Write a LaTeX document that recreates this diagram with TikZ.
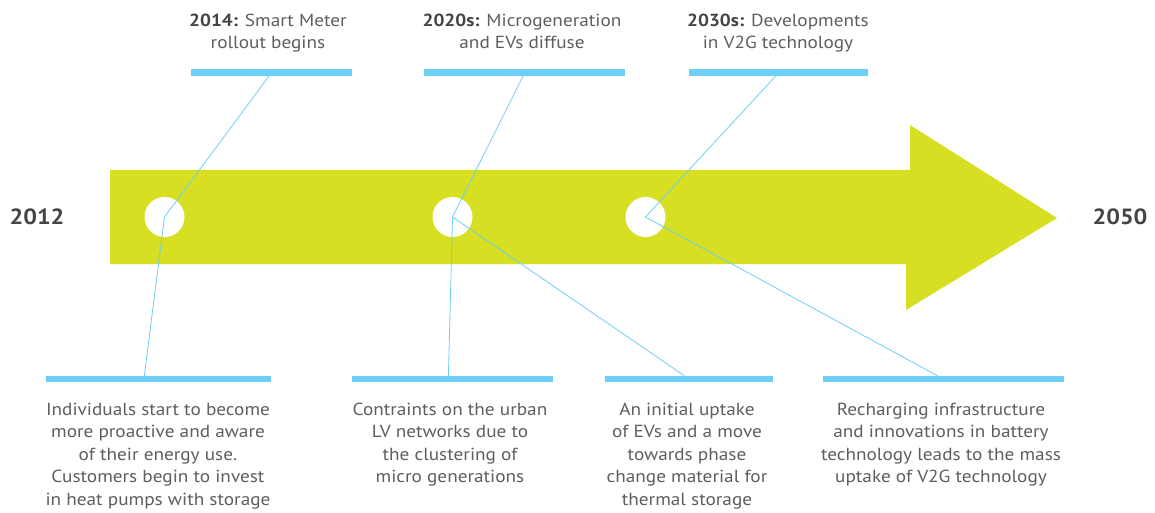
\documentclass[tikz,border=0pt]{standalone}
\usepackage{fontspec}
\setmainfont{PT Sans}[FakeStretch=1.1]
\definecolor{lime}{HTML}{D6DF22}
\definecolor{sky}{HTML}{6DCFF6}
\definecolor{txt}{HTML}{5E5E5E}
\definecolor{btxt}{HTML}{444444}
\begin{document}
\begin{tikzpicture}[x=1pt,y=-1pt,
  bar/.style={fill=sky,draw=none,inner sep=0pt,minimum height=6.5pt},
  dot/.style={circle,fill=white,draw=none,inner sep=0pt,minimum size=40pt},
  link/.style={draw=sky,line width=0.8pt},
  desc/.style={align=center,inner sep=0pt,text=txt,font=\fontsize{17.5}{22.5}\selectfont},
  year/.style={inner sep=0pt,text=btxt,font=\fontsize{22}{26}\selectfont\bfseries}]
\useasboundingbox (0,0) rectangle (1155,513);
% arrow
\fill[lime] (110,170) -- (910,170) -- (910,125) -- (1057,218) -- (906,310) -- (906,264) -- (110,264) -- cycle;
% circles
\node[dot] (c1) at (164.5,217) {};
\node[dot] (c2) at (452.5,217) {};
\node[dot] (c3) at (645.5,217) {};
% top bars
\node[bar,minimum width=161pt] (tb1) at (271,72.5) {};
\node[bar,minimum width=201pt] (tb2) at (524.5,72.5) {};
\node[bar,minimum width=179pt] (tb3) at (778,72.5) {};
% bottom bars
\node[bar,minimum width=224.5pt] (bb1) at (158.3,379) {};
\node[bar,minimum width=201pt] (bb2) at (452.5,379) {};
\node[bar,minimum width=167.5pt] (bb3) at (688.8,379) {};
\node[bar,minimum width=241pt] (bb4) at (943.5,379) {};
% connector ends
\coordinate (t1) at (269.3,75.7);
\coordinate (t2) at (523.3,75.7);
\coordinate (t3) at (776,75.7);
\coordinate (b1) at (144.3,375.8);
\coordinate (b2) at (448.4,375.8);
\coordinate (b3) at (684.5,375.8);
\coordinate (b4) at (937.5,375.8);
\draw[link] (t1) -- (c1.center) -- (b1);
\draw[link] (t2) -- (c2.center) -- (b2);
\draw[link] (c2.center) -- (b3);
\draw[link] (t3) -- (c3.center) -- (b4);
% top texts (anchor = baseline of last line)
\node[desc,anchor=base] (tt1) at (268,49) {{\color{btxt}\bfseries 2014:} Smart Meter\\rollout begins};
\node[desc,anchor=base] (tt2) at (522,49) {{\color{btxt}\bfseries 2020s:} Microgeneration\\and EVs diffuse};
\node[desc,anchor=base] (tt3) at (778,49) {{\color{btxt}\bfseries 2030s:} Developments\\in V2G technology};
% bottom texts
\node[desc,anchor=base] (d1) at (158,505) {Individuals start to become\\more proactive and aware\\of their energy use.\\Customers begin to invest\\in heat pumps with storage};
\node[desc,anchor=base] (d2) at (450,482.5) {Contraints on the urban\\LV networks due to\\the clustering of\\micro generations};
\node[desc,anchor=base] (d3) at (687,505) {An initial uptake\\of EVs and a move\\towards phase\\change material for\\thermal storage};
\node[desc,anchor=base] (d4) at (941,482.5) {Recharging infrastructure\\and innovations in battery\\technology leads to the mass\\uptake of V2G technology};
% years
\node[year] (y1) at (37,217) {2012};
\node[year] (y2) at (1120,217) {2050};
\end{tikzpicture}
\end{document}
